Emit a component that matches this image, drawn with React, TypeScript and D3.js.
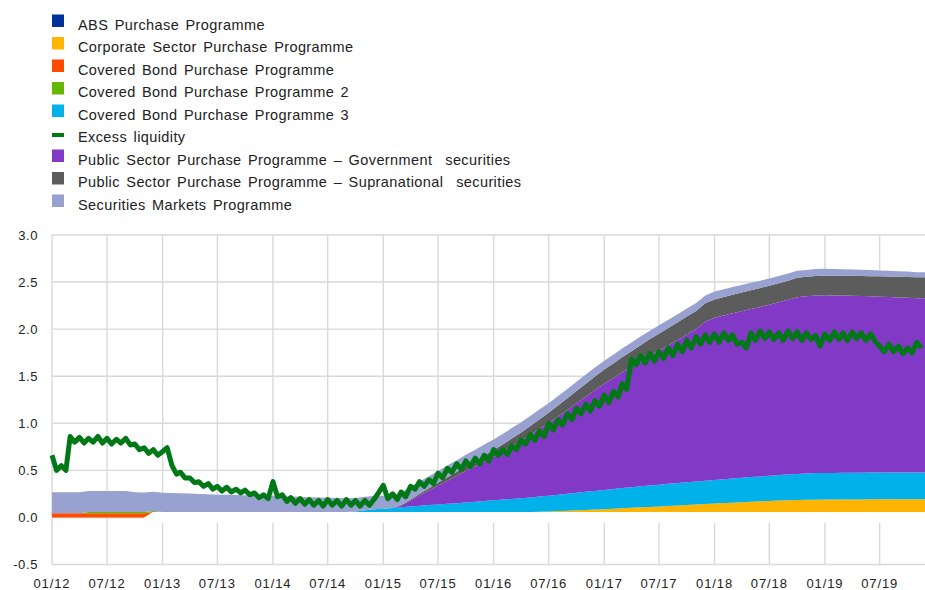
import React, { useEffect, useRef } from 'react';
import * as d3 from 'd3';

// Legend entries, in the order of the source chart
const legendItems = [
  { name: 'ABS Purchase Programme', color: '#003299', kind: 'box' },
  { name: 'Corporate Sector Purchase Programme', color: '#ffb400', kind: 'box' },
  { name: 'Covered Bond Purchase Programme', color: '#ff4b00', kind: 'box' },
  { name: 'Covered Bond Purchase Programme 2', color: '#65b800', kind: 'box' },
  { name: 'Covered Bond Purchase Programme 3', color: '#00b1ea', kind: 'box' },
  { name: 'Excess liquidity', color: '#007816', kind: 'line' },
  { name: 'Public Sector Purchase Programme – Government  securities', color: '#8139c6', kind: 'box' },
  { name: 'Public Sector Purchase Programme – Supranational  securities', color: '#5c5c5c', kind: 'box' },
  { name: 'Securities Markets Programme', color: '#98a1d0', kind: 'box' },
];

const xTickLabels = ['01/12', '07/12', '01/13', '07/13', '01/14', '07/14', '01/15', '07/15',
  '01/16', '07/16', '01/17', '07/17', '01/18', '07/18', '01/19', '07/19'];
const yTicks = [-0.5, 0, 0.5, 1, 1.5, 2, 2.5, 3];

// Monthly holdings (EUR trillions), Jan 2012 – Nov 2019, one row per year
// unlabelled white band at the bottom of the stack
const gapBand = [
  0, 0, 0, 0, 0, 0, 0, 0, 0, 0, 0, 0.057,
  0.057, 0.057, 0.057, 0.057, 0.057, 0.057, 0.057, 0.057, 0.057, 0.057, 0.057, 0.057,
  0.057, 0.057, 0.057, 0.057, 0.057, 0.057, 0.057, 0.057, 0.057, 0.057, 0.057, 0.057,
  0.057, 0.057, 0.057, 0.057, 0.057, 0.057, 0.057, 0.057, 0.057, 0.057, 0.057, 0.057,
  0.057, 0.057, 0.057, 0.057, 0.057, 0.057, 0.057, 0.057, 0.057, 0.057, 0.057, 0.057,
  0.057, 0.057, 0.057, 0.057, 0.057, 0.057, 0.057, 0.057, 0.057, 0.057, 0.057, 0.057,
  0.057, 0.057, 0.057, 0.057, 0.057, 0.057, 0.057, 0.057, 0.057, 0.057, 0.057, 0.057,
  0.057, 0.057, 0.057, 0.057, 0.057, 0.057, 0.057, 0.057, 0.057, 0.057, 0.057,
];
const gapFloor = -0.06;

const cspp = [
  0, 0, 0, 0, 0, 0, 0, 0, 0, 0, 0, 0,
  0, 0, 0, 0, 0, 0, 0, 0, 0, 0, 0, 0,
  0, 0, 0, 0, 0, 0, 0, 0, 0, 0, 0, 0,
  0, 0, 0, 0, 0, 0, 0, 0, 0, 0, 0, 0,
  0, 0, 0, 0, 0, 0.003, 0.006, 0.01, 0.014, 0.018, 0.022, 0.026,
  0.03, 0.035, 0.04, 0.045, 0.05, 0.055, 0.06, 0.065, 0.07, 0.075, 0.08, 0.085,
  0.09, 0.095, 0.1, 0.105, 0.11, 0.114, 0.118, 0.122, 0.125, 0.128, 0.13, 0.132,
  0.133, 0.133, 0.134, 0.134, 0.134, 0.135, 0.135, 0.135, 0.135, 0.136, 0.136,
];

const cbpp = [
  0.045, 0.045, 0.045, 0.045, 0.045, 0.045, 0.045, 0.045, 0.045, 0.045, 0.045, 0,
  0, 0, 0, 0, 0, 0, 0, 0, 0, 0, 0, 0,
  0, 0, 0, 0, 0, 0, 0, 0, 0, 0, 0, 0,
  0, 0, 0, 0, 0, 0, 0, 0, 0, 0, 0, 0,
  0, 0, 0, 0, 0, 0, 0, 0, 0, 0, 0, 0,
  0, 0, 0, 0, 0, 0, 0, 0, 0, 0, 0, 0,
  0, 0, 0, 0, 0, 0, 0, 0, 0, 0, 0, 0,
  0, 0, 0, 0, 0, 0, 0, 0, 0, 0, 0,
];

const cbpp2 = [
  0, 0, 0, 0, 0.012, 0.012, 0.012, 0.012, 0.012, 0.012, 0.012, 0.012,
  0, 0, 0, 0, 0, 0, 0, 0, 0, 0, 0, 0,
  0, 0, 0, 0, 0, 0, 0, 0, 0, 0, 0, 0,
  0, 0, 0, 0, 0, 0, 0, 0, 0, 0, 0, 0,
  0, 0, 0, 0, 0, 0, 0, 0, 0, 0, 0, 0,
  0, 0, 0, 0, 0, 0, 0, 0, 0, 0, 0, 0,
  0, 0, 0, 0, 0, 0, 0, 0, 0, 0, 0, 0,
  0, 0, 0, 0, 0, 0, 0, 0, 0, 0, 0,
];

const cbpp3 = [
  0, 0, 0, 0, 0, 0, 0, 0, 0, 0, 0, 0,
  0, 0, 0, 0, 0, 0, 0, 0, 0, 0, 0, 0,
  0, 0, 0, 0, 0, 0, 0, 0, 0, 0.005, 0.02, 0.03,
  0.035, 0.043, 0.051, 0.059, 0.067, 0.074, 0.08, 0.087, 0.094, 0.102, 0.11, 0.118,
  0.126, 0.133, 0.14, 0.147, 0.154, 0.161, 0.168, 0.175, 0.181, 0.187, 0.193, 0.199,
  0.205, 0.21, 0.215, 0.219, 0.223, 0.227, 0.231, 0.235, 0.238, 0.241, 0.244, 0.247,
  0.25, 0.253, 0.256, 0.259, 0.262, 0.265, 0.268, 0.271, 0.274, 0.277, 0.28, 0.282,
  0.283, 0.283, 0.283, 0.284, 0.284, 0.284, 0.284, 0.284, 0.284, 0.284, 0.285,
];

const psppGov = [
  0, 0, 0, 0, 0, 0, 0, 0, 0, 0, 0, 0,
  0, 0, 0, 0, 0, 0, 0, 0, 0, 0, 0, 0,
  0, 0, 0, 0, 0, 0, 0, 0, 0, 0, 0, 0,
  0, 0, 0.02, 0.065, 0.11, 0.155, 0.2, 0.245, 0.29, 0.335, 0.375, 0.42,
  0.462, 0.51, 0.56, 0.61, 0.665, 0.72, 0.77, 0.83, 0.89, 0.95, 1.01, 1.07,
  1.128, 1.18, 1.23, 1.28, 1.33, 1.38, 1.425, 1.473, 1.52, 1.57, 1.62, 1.69,
  1.723, 1.74, 1.755, 1.77, 1.785, 1.8, 1.817, 1.835, 1.855, 1.878, 1.883, 1.887,
  1.887, 1.885, 1.883, 1.88, 1.877, 1.873, 1.869, 1.865, 1.86, 1.856, 1.85,
];

const psppSupra = [
  0, 0, 0, 0, 0, 0, 0, 0, 0, 0, 0, 0,
  0, 0, 0, 0, 0, 0, 0, 0, 0, 0, 0, 0,
  0, 0, 0, 0, 0, 0, 0, 0, 0, 0, 0, 0,
  0, 0, 0.004, 0.01, 0.017, 0.024, 0.031, 0.038, 0.045, 0.052, 0.058, 0.064,
  0.07, 0.076, 0.082, 0.089, 0.096, 0.103, 0.11, 0.117, 0.124, 0.131, 0.138, 0.145,
  0.15, 0.155, 0.16, 0.165, 0.17, 0.175, 0.179, 0.183, 0.187, 0.19, 0.193, 0.195,
  0.196, 0.197, 0.198, 0.199, 0.2, 0.201, 0.202, 0.203, 0.204, 0.205, 0.206, 0.207,
  0.208, 0.209, 0.21, 0.211, 0.212, 0.214, 0.216, 0.218, 0.22, 0.222, 0.223,
];

const smp = [
  0.223, 0.223, 0.223, 0.223, 0.223, 0.223, 0.223, 0.223, 0.223, 0.21, 0.208, 0.205,
  0.205, 0.203, 0.2, 0.196, 0.192, 0.188, 0.185, 0.183, 0.18, 0.178, 0.176, 0.175,
  0.172, 0.168, 0.165, 0.162, 0.158, 0.155, 0.152, 0.15, 0.147, 0.145, 0.143, 0.14,
  0.138, 0.136, 0.134, 0.132, 0.13, 0.128, 0.126, 0.124, 0.122, 0.12, 0.118, 0.116,
  0.114, 0.112, 0.11, 0.108, 0.106, 0.104, 0.102, 0.1, 0.099, 0.098, 0.097, 0.096,
  0.095, 0.094, 0.093, 0.092, 0.091, 0.09, 0.089, 0.088, 0.087, 0.086, 0.085, 0.084,
  0.083, 0.082, 0.081, 0.08, 0.079, 0.078, 0.077, 0.076, 0.075, 0.074, 0.073, 0.073,
  0.073, 0.072, 0.07, 0.068, 0.066, 0.064, 0.062, 0.06, 0.058, 0.056, 0.054,
];

// Excess liquidity, twice a month (1st and 16th), Jan 2012 – Nov 2019
const excessLiquidity = [
  0.66, 0.5, 0.55, 0.5, 0.86, 0.8, 0.85, 0.79, 0.84, 0.8, 0.86, 0.79,
  0.84, 0.78, 0.83, 0.79, 0.84, 0.77, 0.78, 0.72, 0.74, 0.68, 0.72, 0.66,
  0.7, 0.74, 0.55, 0.46, 0.48, 0.42, 0.42, 0.37, 0.38, 0.33, 0.36, 0.3,
  0.33, 0.28, 0.32, 0.27, 0.3, 0.26, 0.29, 0.24, 0.26, 0.21, 0.24, 0.2,
  0.38, 0.22, 0.24, 0.17, 0.21, 0.15, 0.2, 0.14, 0.19, 0.13, 0.18, 0.12,
  0.19, 0.13, 0.18, 0.12, 0.19, 0.13, 0.18, 0.12, 0.18, 0.13, 0.19, 0.26,
  0.34, 0.2, 0.25, 0.19, 0.27, 0.22, 0.33, 0.3, 0.38, 0.33, 0.4, 0.36,
  0.47, 0.42, 0.52, 0.48, 0.57, 0.51, 0.6, 0.54, 0.63, 0.57, 0.66, 0.6,
  0.72, 0.66, 0.72, 0.67, 0.76, 0.72, 0.82, 0.78, 0.88, 0.82, 0.92, 0.86,
  1.0, 0.93, 1.04, 0.98, 1.1, 1.04, 1.16, 1.1, 1.2, 1.13, 1.24, 1.18,
  1.3, 1.22, 1.34, 1.28, 1.42, 1.36, 1.68, 1.62, 1.72, 1.64, 1.74, 1.66,
  1.76, 1.69, 1.8, 1.72, 1.84, 1.76, 1.88, 1.8, 1.92, 1.84, 1.94, 1.86,
  1.95, 1.86, 1.96, 1.88, 1.94, 1.84, 1.86, 1.8, 1.96, 1.88, 1.98, 1.9,
  1.97, 1.89, 1.96, 1.88, 1.98, 1.9, 1.97, 1.88, 1.96, 1.89, 1.93, 1.82,
  1.95, 1.88, 1.97, 1.89, 1.96, 1.88, 1.97, 1.9, 1.96, 1.88, 1.95, 1.87,
  1.82, 1.76, 1.84, 1.76, 1.82, 1.74, 1.8, 1.75, 1.86, 1.8,
];

const App = () => {
  const chartRef = useRef(null);

  useEffect(() => {
    if (!chartRef.current) return;
    const svg = d3.select(chartRef.current);
    svg.selectAll('*').remove();

    const width = 925;
    const height = 590;
    const left = 52;
    const font = 'Liberation Sans, Arial, sans-serif';

    const startDate = new Date(2012, 0, 1);
    const endDate = new Date(2019, 10, 28);

    const x = d3.scaleTime().domain([startDate, endDate]).range([left, width]);
    const y = d3.scaleLinear().domain([-0.5, 3]).range([564.5, 235]);

    svg.append('rect').attr('width', width).attr('height', height).attr('fill', 'white');

    // grid
    const grid = svg.append('g');
    yTicks.forEach(t => {
      grid.append('line')
        .attr('x1', left).attr('x2', width)
        .attr('y1', y(t)).attr('y2', y(t))
        .attr('stroke', '#d9d9d9').attr('stroke-width', 1.4);
    });
    const tickDates = xTickLabels.map((_, i) => d3.timeMonth.offset(startDate, i * 6));
    tickDates.forEach(d => {
      grid.append('line')
        .attr('x1', x(d)).attr('x2', x(d))
        .attr('y1', y(3)).attr('y2', y(-0.5))
        .attr('stroke', '#d9d9d9').attr('stroke-width', 1.4);
    });

    // stacked holdings
    const keys = ['gap', 'cspp', 'cbpp', 'cbpp2', 'cbpp3', 'gov', 'supra', 'smp'];
    const colors = {
      gap: '#ffffff', cspp: '#ffb400', cbpp: '#ff4b00', cbpp2: '#65b800', cbpp3: '#00b1ea',
      gov: '#8139c6', supra: '#5c5c5c', smp: '#98a1d0',
    };
    const rows = gapBand.map((_, i) => ({
      date: d3.timeMonth.offset(startDate, i),
      gap: gapBand[i], cspp: cspp[i], cbpp: cbpp[i], cbpp2: cbpp2[i], cbpp3: cbpp3[i],
      gov: psppGov[i], supra: psppSupra[i], smp: smp[i],
    }));
    rows.push({ ...rows[rows.length - 1], date: endDate });

    const series = d3.stack().keys(keys)(rows);

    const area = d3.area()
      .curve(d3.curveLinear)
      .x(d => x(d.data.date))
      .y0(d => y(d[0]))
      .y1(d => y(d[1]));

    const areas = svg.append('g');
    series.forEach(s => {
      areas.append('path')
        .datum(s)
        .attr('fill', colors[s.key])
        .attr('d', area);
    });

    // white band below zero under the gap layer
    const gapArea = d3.area()
      .curve(d3.curveLinear)
      .x(d => x(d.date))
      .y0(d => y(d.gap > 0 ? gapFloor : 0))
      .y1(d => y(d.gap > 0 ? d.gap : 0));
    areas.append('path').datum(rows).attr('fill', '#ffffff').attr('d', gapArea);

    // excess liquidity
    const elData = excessLiquidity.map((v, i) => ({
      date: new Date(2012, Math.floor(i / 2), i % 2 ? 16 : 1),
      value: v,
    }));
    const line = d3.line()
      .x(d => x(d.date))
      .y(d => y(d.value));
    svg.append('path')
      .datum(elData)
      .attr('fill', 'none')
      .attr('stroke', '#007816')
      .attr('stroke-width', 5)
      .attr('stroke-linejoin', 'round')
      .attr('d', line);

    // y axis labels
    yTicks.forEach(t => {
      svg.append('text')
        .attr('x', 38)
        .attr('y', y(t) + 4.6)
        .attr('text-anchor', 'end')
        .style('font-family', font)
        .style('font-size', '13px')
        .style('letter-spacing', '0.6px')
        .style('fill', '#222')
        .text(t.toFixed(1));
    });

    // x axis labels
    tickDates.forEach((d, i) => {
      svg.append('text')
        .attr('x', x(d))
        .attr('y', 588)
        .attr('text-anchor', 'middle')
        .style('font-family', font)
        .style('font-size', '13px')
        .style('letter-spacing', '0.9px')
        .style('fill', '#222')
        .text(xTickLabels[i]);
    });

    // legend
    const legend = svg.append('g');
    legendItems.forEach((item, i) => {
      const base = 29.5 + i * 22.5;
      if (item.kind === 'box') {
        legend.append('rect')
          .attr('x', 52).attr('y', base - 15)
          .attr('width', 12).attr('height', 12.5)
          .attr('fill', item.color);
      } else {
        legend.append('rect')
          .attr('x', 52).attr('y', base - 9)
          .attr('width', 12).attr('height', 4)
          .attr('fill', item.color);
      }
      legend.append('text')
        .attr('x', 78)
        .attr('y', base)
        .style('font-family', font)
        .style('font-size', '14.5px')
        .style('letter-spacing', '0.4px')
        .style('word-spacing', '2px')
        .style('white-space', 'pre')
        .style('fill', '#222')
        .text(item.name);
    });
  }, []);

  return (
    <div style={{ position: 'absolute', left: 0, top: 0 }}>
      <svg ref={chartRef} width={925} height={590} style={{ display: 'block' }} />
    </div>
  );
};

export default App;
